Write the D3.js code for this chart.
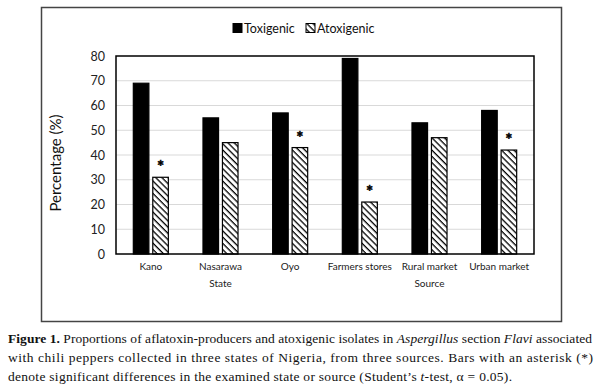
<!DOCTYPE html>
<html lang="en">
<head>
    <meta charset="UTF-8">
    <title>Figure 1</title>
    <script src="https://cdn.jsdelivr.net/npm/d3@7"></script>
    <style>
        html, body {
            margin: 0;
            padding: 0;
            background: #fff;
        }
        svg text {
            font-family: Lato, "Open Sans", sans-serif;
        }
        .caption text {
            font-family: "Liberation Serif", "DejaVu Serif", serif;
        }
    </style>
</head>
<body>
<svg id="chart" width="600" height="391"></svg>
</body>

<script>

    // values
    const categories = ["Kano", "Nasarawa", "Oyo", "Farmers stores", "Rural market", "Urban market"];
    const toxigenic = [69, 55, 57, 79, 53, 58];
    const atoxigenic = [31, 45, 43, 21, 47, 42];
    const significant = [true, false, true, true, false, true];
    const seriesNames = ["Toxigenic", "Atoxigenic"];
    const groupNames = ["State", "Source"];
    const groupOf = [0, 0, 0, 1, 1, 1];
    const yTicks = [0, 10, 20, 30, 40, 50, 60, 70, 80];

    const svg = d3.select("#chart");

    // hatch for the atoxigenic bars ( \\\ direction )
    const defs = svg.append("defs");
    defs.append("pattern")
        .attr("id", "hatch")
        .attr("patternUnits", "userSpaceOnUse")
        .attr("width", 4.4)
        .attr("height", 4.4)
        .attr("patternTransform", "rotate(45)")
        .call(p => {
            p.append("rect").attr("width", 4.4).attr("height", 4.4).attr("fill", "#fff");
            p.append("line").attr("x1", 0).attr("y1", 0).attr("x2", 4.4).attr("y2", 0)
                .attr("stroke", "#000").attr("stroke-width", 2.6);
        });

    // outer frame
    svg.append("rect")
        .attr("x", 41.5).attr("y", 7.5)
        .attr("width", 520).attr("height", 314)
        .attr("fill", "none")
        .attr("stroke", "#444")
        .attr("stroke-width", 1.5);

    const plot = {left: 116, right: 534, top: 56, bottom: 254};

    const y = d3.scaleLinear().domain([0, 80]).range([plot.bottom, plot.top]);
    const x = d3.scaleBand().domain(categories).range([plot.left, plot.right]).paddingInner(0).paddingOuter(0);
    const xs = d3.scaleBand().domain(seriesNames).range([0, x.bandwidth()]).paddingInner(0.2).paddingOuter(0.89);

    // gridlines
    svg.append("g")
        .selectAll("line")
        .data(yTicks.filter(t => t > 0 && t < 80))
        .join("line")
        .attr("x1", plot.left).attr("x2", plot.right)
        .attr("y1", d => y(d)).attr("y2", d => y(d))
        .attr("stroke", "#d9d9d9")
        .attr("stroke-width", 1);

    // y axis labels
    const yAxis = svg.append("g")
        .attr("transform", `translate(${plot.left},0)`)
        .call(d3.axisLeft(y).tickValues(yTicks).tickSize(0).tickPadding(11));
    yAxis.select(".domain").remove();
    yAxis.selectAll("text")
        .attr("font-size", 12.5)
        .attr("font-family", "Lato, sans-serif")
        .attr("fill", "#222");

    svg.append("text")
        .attr("transform", `translate(61,${(plot.top + plot.bottom) / 2 + 8}) rotate(-90)`)
        .attr("text-anchor", "middle")
        .attr("font-size", 15)
        .attr("fill", "#111")
        .text("Percentage (%)");

    // bars
    const rows = categories.map((c, i) => ({
        cat: c,
        values: [toxigenic[i], atoxigenic[i]],
        star: significant[i]
    }));

    const grp = svg.append("g")
        .selectAll("g")
        .data(rows)
        .join("g")
        .attr("transform", d => `translate(${x(d.cat)},0)`);

    grp.selectAll("rect")
        .data(d => d.values.map((v, k) => ({name: seriesNames[k], v})))
        .join("rect")
        .attr("x", d => xs(d.name))
        .attr("y", d => y(d.v))
        .attr("width", xs.bandwidth())
        .attr("height", d => y(0) - y(d.v))
        .attr("fill", d => d.name === "Toxigenic" ? "#000" : "url(#hatch)")
        .attr("stroke", "#000")
        .attr("stroke-width", 1.2);

    // significance asterisks (stroked so they render plain black)
    grp.filter(d => d.star)
        .append("text")
        .attr("x", xs("Atoxigenic") + xs.bandwidth() / 2)
        .attr("y", d => y(d.values[1]) - 4)
        .attr("text-anchor", "middle")
        .attr("font-size", 17)
        .attr("font-weight", "bold")
        .attr("font-family", "DejaVu Sans, sans-serif")
        .attr("fill", "#000")
        .attr("stroke", "#000")
        .attr("stroke-width", 0.5)
        .text("*");

    // plot frame
    svg.append("rect")
        .attr("x", plot.left).attr("y", plot.top)
        .attr("width", plot.right - plot.left).attr("height", plot.bottom - plot.top)
        .attr("fill", "none")
        .attr("stroke", "#000")
        .attr("stroke-width", 1.5);

    // category labels
    svg.append("g")
        .selectAll("text")
        .data(categories)
        .join("text")
        .attr("x", d => x(d) + x.bandwidth() / 2)
        .attr("y", 270)
        .attr("text-anchor", "middle")
        .attr("font-size", 10)
        .attr("fill", "#222")
        .text(d => d);

    // group labels (State / Source)
    svg.append("g")
        .selectAll("text")
        .data(groupNames)
        .join("text")
        .attr("x", (g, gi) => {
            const cats = categories.filter((c, i) => groupOf[i] === gi);
            return (x(cats[0]) + x(cats[cats.length - 1]) + x.bandwidth()) / 2;
        })
        .attr("y", 287)
        .attr("text-anchor", "middle")
        .attr("font-size", 10)
        .attr("fill", "#222")
        .text(d => d);

    // legend
    const legend = svg.append("g").attr("transform", "translate(233,28)");
    const li = legend.selectAll("g")
        .data(seriesNames)
        .join("g")
        .attr("transform", (d, i) => `translate(${i * 73},0)`);
    li.append("rect")
        .attr("x", 0).attr("y", -4.5)
        .attr("width", 9).attr("height", 9)
        .attr("fill", d => d === "Toxigenic" ? "#000" : "url(#hatch)")
        .attr("stroke", "#000")
        .attr("stroke-width", 1);
    li.append("text")
        .attr("x", 11).attr("y", 4.5)
        .attr("font-size", 12.5)
        .attr("fill", "#111")
        .text(d => d);

    // caption
    const cap = svg.append("g").attr("class", "caption").attr("font-size", 13.5).attr("fill", "#111");
    const l1 = cap.append("text").attr("x", 8).attr("y", 343).attr("textLength", 584).attr("lengthAdjust", "spacing");
    l1.append("tspan").attr("font-weight", "bold").text("Figure 1.");
    l1.append("tspan").text(" Proportions of aflatoxin-producers and atoxigenic isolates in ");
    l1.append("tspan").attr("font-style", "italic").text("Aspergillus");
    l1.append("tspan").text(" section ");
    l1.append("tspan").attr("font-style", "italic").text("Flavi");
    l1.append("tspan").text(" associated");

    cap.append("text").attr("x", 8).attr("y", 362).attr("textLength", 585).attr("lengthAdjust", "spacing")
        .text("with chili peppers collected in three states of Nigeria, from three sources.  Bars with an asterisk (*)");

    const l3 = cap.append("text").attr("x", 8).attr("y", 381).attr("textLength", 504).attr("lengthAdjust", "spacing");
    l3.append("tspan").text("denote significant differences in the examined state or source (Student\u2019s ");
    l3.append("tspan").attr("font-style", "italic").text("t");
    l3.append("tspan").text("-test, \u03b1 = 0.05).");

</script>

</html>
